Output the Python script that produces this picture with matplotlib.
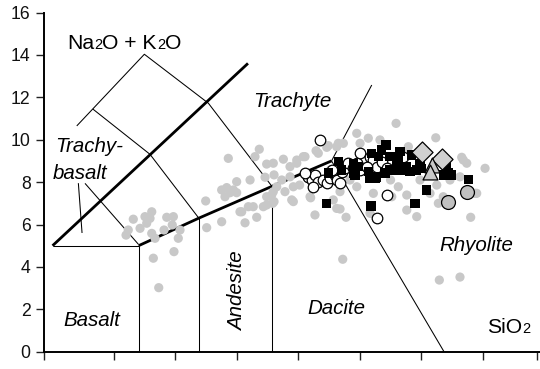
import matplotlib
matplotlib.use("Agg")
import matplotlib.pyplot as plt
import matplotlib.transforms as mtransforms

plt.rcParams['font.family'] = ['Liberation Sans', 'DejaVu Sans']

# ---- TAS field boundaries (SiO2, Na2O + K2O) ----
alkaline_divide_x = [45.0, 60.9]
alkaline_divide_y = [5.0, 13.6]
subalkaline_top_x = [52.0, 56.9, 62.85, 67.7]
subalkaline_top_y = [5.0, 6.3, 7.8, 9.0]

thin_lines = [
    ([45.0, 52.0], [5.0, 5.0]),
    ([52.0, 52.0], [0.0, 5.0]),
    ([56.9, 56.9], [0.0, 6.3]),
    ([62.85, 62.85], [0.0, 7.8]),
    ([76.85, 67.7, 70.97], [0.0, 9.0, 12.58]),
    ([48.27, 52.93, 56.9], [11.45, 9.31, 6.3]),
    ([46.97, 52.47, 57.68, 62.85], [10.65, 14.03, 11.72, 7.8]),
    ([47.1, 47.4], [7.95, 5.6]),
    ([47.64, 51.98], [7.94, 5.07]),
]

# ---- samples ----
grey_sio2 = [50.98, 51.16, 51.57, 52.12, 52.66, 52.52, 53.07, 52.93, 53.07, 53.34,
             54.07, 54.29, 54.74, 55.37, 55.23, 54.88, 53.2, 53.64, 54.83,
             57.46, 57.54, 58.76, 60.25, 60.66, 61.61, 62.42, 59.17, 59.71, 58.76,
             59.3, 61.82, 61.47, 62.42, 63.78, 64.87, 65.54, 66.44, 67.31, 63.02,
             62.29, 63.65, 64.32, 61.07, 59.98, 59.44, 59.98, 59.03, 60.39, 60.93,
             61.33, 62.15, 62.42, 62.83, 62.91, 63.91, 64.59, 64.46, 65.95, 63.24,
             62.96, 63.02,
             72.95, 69.75, 70.69, 76.18, 68.25, 67.44, 65.4, 62.96, 78.29, 78.7,
             80.19, 77.48, 70.02, 71.64, 73.95, 68.66, 68.12, 66.62, 64.87, 64.32,
             73.95, 78.42, 78.15, 77.34, 76.26, 79.37, 73.82, 76.79, 64.59, 68.39,
             69.75, 71.1, 73.13, 70.83, 73.82, 74.63, 68.12, 66.35, 75.71, 67.84,
             68.39, 68.88, 68.61, 76.47, 78.15, 79.02, 79.51, 76.39, 72.6, 66.0,
             67.6, 70.0, 72.5, 74.9, 69.2, 71.6, 65.1]
grey_alk = [5.5, 5.74, 6.25, 5.82, 6.06, 6.37, 6.6, 6.29, 5.58, 5.35,
            5.74, 6.34, 5.98, 5.74, 5.35, 4.72, 4.41, 3.02, 6.37,
            7.11, 5.85, 6.13, 6.6, 6.08, 6.34, 6.92, 7.74, 7.63, 7.63,
            9.12, 9.55, 9.2, 8.85, 9.08, 9.04, 9.2, 9.48, 9.64, 8.34,
            8.23, 8.1, 8.25, 8.1, 8.02, 7.5, 7.5, 7.31, 6.6, 6.84,
            6.84, 6.84, 7.31, 7.39, 7.0, 7.55, 7.78, 7.16, 7.31, 7.78,
            7.55, 7.08,
            10.77, 10.3, 10.07, 10.09, 9.83, 9.72, 9.2, 8.89, 9.17, 8.89,
            8.65, 8.33, 9.83, 9.99, 9.67, 9.83, 9.67, 9.36, 8.89, 8.73,
            9.36, 9.04, 8.25, 8.1, 7.86, 7.47, 7.39, 7.31, 7.08, 7.55,
            7.78, 7.47, 7.78, 6.53, 6.68, 6.37, 6.76, 6.45, 7.47, 7.16,
            6.73, 6.34, 4.36, 3.38, 3.52, 6.34, 7.47, 7.0, 7.31, 7.26,
            8.57, 8.81, 8.1, 8.1, 8.1, 8.95, 7.86]

open_sio2 = [65.81, 66.09, 66.35, 66.62, 67.03, 67.31, 67.58, 67.98, 68.12, 68.39,
             68.53, 68.8, 69.06, 69.47, 69.75, 70.02, 70.83, 71.1, 71.37, 71.78,
             72.19, 73.27, 73.54, 66.76, 72.19, 71.37, 66.2, 65.54, 67.71, 70.02,
             70.56]
open_alk = [8.25, 8.1, 8.33, 8.02, 8.1, 7.94, 8.18, 8.33, 8.1, 7.94,
            8.49, 8.65, 8.89, 8.65, 8.89, 9.36, 9.2, 9.04, 8.73, 8.96,
            8.65, 9.12, 9.2, 9.99, 7.39, 6.29, 7.78, 8.42, 8.57, 8.57,
            8.73]

black_sio2 = [72.13, 71.78, 70.97, 71.51, 72.46, 73.27, 73.13, 74.22, 68.25, 68.53,
              69.47, 69.47, 69.88, 70.69, 70.83, 71.24, 72.05, 72.46, 73.27, 73.0,
              73.82, 74.08, 74.9, 75.04, 77.07, 77.2, 77.48, 76.79, 78.83, 75.44,
              74.49, 70.91, 67.31, 69.61, 71.37, 74.63, 67.44]
black_alk = [9.75, 9.51, 9.36, 9.2, 9.2, 9.43, 9.04, 9.28, 8.96, 8.57,
             8.89, 8.42, 8.73, 8.49, 8.18, 8.18, 8.42, 8.57, 8.57, 8.81,
             8.73, 8.49, 8.89, 8.65, 8.73, 8.42, 8.33, 8.33, 8.13, 7.63,
             7.0, 6.87, 7.0, 8.33, 8.25, 8.57, 8.42]

diamond_sio2 = [75.04, 76.66]
diamond_alk = [9.43, 9.08]
triangle_sio2 = [75.85, 75.7]
triangle_alk = [8.81, 8.49]
big_sio2 = [77.2, 78.7]
big_alk = [7.05, 7.55]

x_ticks = [44.28, 50, 55, 60, 65, 70, 75, 80, 84.4]
y_ticks = [0, 2, 4, 6, 8, 10, 12, 14, 16]

fig = plt.figure(figsize=(5.4, 3.69), dpi=100)
ax = fig.add_axes([43.7 / 540, 17.3 / 369, 1 - 43.7 / 540, 339.2 / 369])
ax.set_xlim(44.28, 84.66)
ax.set_ylim(0, 16)

for side in ('top', 'right'):
    ax.spines[side].set_visible(False)
for side in ('left', 'bottom'):
    ax.spines[side].set_linewidth(1.4)

ax.set_xticks(x_ticks)
ax.set_xticklabels([])
ax.set_yticks(y_ticks)
ax.set_yticklabels([str(v) for v in y_ticks])
ax.tick_params(axis='both', direction='out', length=5.5, width=1.0, color='#222222')
ax.tick_params(axis='y', labelsize=12.7, pad=4, labelcolor='#111111')

# field boundaries
for xs, ys in thin_lines:
    ax.plot(xs, ys, color='black', lw=0.75, zorder=2, solid_capstyle='butt')
ax.plot(alkaline_divide_x, alkaline_divide_y, color='black', lw=2.0, zorder=2,
        solid_capstyle='butt')
ax.plot(subalkaline_top_x, subalkaline_top_y, color='black', lw=2.0, zorder=2,
        solid_capstyle='butt')

# samples
ax.scatter(grey_sio2, grey_alk, s=44, c='#c8c8c8', edgecolors='none', zorder=3)
ax.scatter(open_sio2, open_alk, s=58, c='white', edgecolors='black', linewidths=0.9, zorder=4)
ax.scatter(black_sio2, black_alk, s=46, c='black', marker='s', edgecolors='none', zorder=5)
ax.scatter(diamond_sio2, diamond_alk, s=115, c='#d0d0d0', marker='D', edgecolors='black',
           linewidths=0.9, zorder=6)
ax.scatter(triangle_sio2, triangle_alk, s=115, c='#c8c8c8', marker='^', edgecolors='black',
           linewidths=0.9, zorder=6)
ax.scatter(big_sio2, big_alk, s=100, c='#c0c0c0', marker='o', edgecolors='black',
           linewidths=0.9, zorder=6)

# field names
lab = dict(fontsize=14.8, style='italic', color='black', zorder=7)
ax.text(64.48, 11.79, 'Trachyte', ha='center', va='center', **lab)
ax.text(45.2, 9.67, 'Trachy-', ha='left', va='center', **lab)
ax.text(45.04, 8.42, 'basalt', ha='left', va='center', **lab)
ax.text(48.21, 1.49, 'Basalt', ha='center', va='center', **lab)
ax.text(60.03, 2.86, 'Andesite', ha='center', va='center', rotation=90, **lab)
ax.text(68.09, 2.05, 'Dacite', ha='center', va='center', **lab)
ax.text(79.48, 5.03, 'Rhyolite', ha='center', va='center', **lab)


def formula(x, y, parts, size=15.2, small=10.5):
    """Write a chemical formula piece by piece, digits in a smaller size."""
    renderer = fig.canvas.get_renderer()
    dx = 0.0
    for s, is_small in parts:
        tr = mtransforms.offset_copy(ax.transData, fig=fig, x=dx, y=0, units='dots')
        t = ax.text(x, y, s, transform=tr, ha='left', va='baseline',
                    fontsize=small if is_small else size, color='black', zorder=7)
        dx += t.get_window_extent(renderer).width


formula(46.18, 14.26, [('Na', False), ('2', True), ('O + K', False), ('2', True), ('O', False)])
formula(80.33, 0.87, [('SiO', False), ('2', True)])

fig.savefig('out.png', dpi=100)
